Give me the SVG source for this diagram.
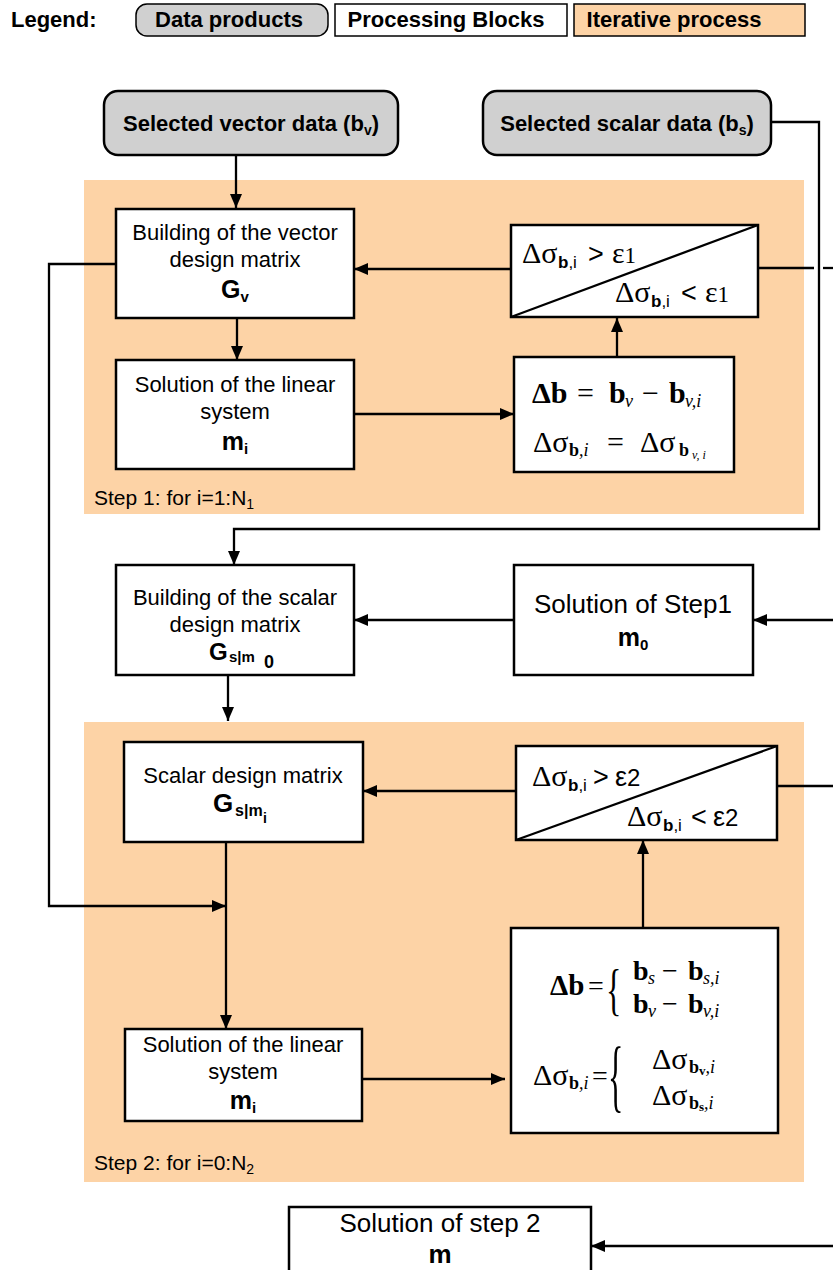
<svg xmlns="http://www.w3.org/2000/svg" width="833" height="1270" viewBox="0 0 833 1270">
<style>
.box{fill:#fff;stroke:#000;stroke-width:2.5}
.dp{fill:#d0d0d0;stroke:#000;stroke-width:2.5}
.it{fill:#fdd3a6}
.lg{stroke:#000;stroke-width:1.5}
.c{fill:none;stroke:#000;stroke-width:2.3}
.a{marker-end:url(#ah)}
.s{font-family:'Liberation Sans',Arial,sans-serif}
.t{font-family:'Liberation Sans',Arial,sans-serif;text-anchor:middle}
.b{font-weight:bold}
.r{font-family:'Liberation Serif','Times New Roman',serif}
.i{font-style:italic}
</style>
<defs>
<marker id="ah" viewBox="0 0 14 12" refX="14" refY="6" markerWidth="14" markerHeight="12" markerUnits="userSpaceOnUse" orient="auto">
<path d="M0,0 L14,6 L0,12 z" fill="#000"/>
</marker>
</defs>

<g id="legend">
<text x="11" y="27" class="s b" font-size="22">Legend:</text>
<rect x="136" y="4" width="192" height="32" rx="11" class="dp lg"/>
<text x="229" y="27" class="t b" font-size="22">Data products</text>
<rect x="335" y="4" width="232" height="32" class="box lg"/>
<text x="446" y="27" class="t b" font-size="22">Processing Blocks</text>
<rect x="574" y="4" width="231" height="32" class="it lg"/>
<text x="674" y="27" class="t b" font-size="22">Iterative process</text>
</g>

<g id="step1-region">
<rect x="84" y="180" width="720" height="334" class="it"/>
<text x="94" y="505" class="s" font-size="21">Step 1: for i=1:N<tspan font-size="14" dy="4">1</tspan></text>
</g>
<g id="step2-region">
<rect x="84" y="722" width="720" height="460" class="it"/>
<text x="94" y="1170" class="s" font-size="21">Step 2: for i=0:N<tspan font-size="14" dy="4">2</tspan></text>
</g>

<g id="connectors">
<path d="M236,155 V208" class="c a"/>
<path d="M771,122 H819 V529 H234 V565" class="c a"/>
<path d="M237,318 V360" class="c a"/>
<path d="M354,414 H514" class="c a"/>
<path d="M617,357 V318" class="c a"/>
<path d="M511,269 H354" class="c a"/>
<path d="M758,268 H814" class="c"/>
<path d="M823,268 H833" class="c"/>
<path d="M116,264 H49 V906 H226" class="c a"/>
<path d="M514,620 H354" class="c a"/>
<path d="M833,620 H753" class="c a"/>
<path d="M228,675 V721" class="c a"/>
<path d="M516,791 H363" class="c a"/>
<path d="M777,786 H833" class="c"/>
<path d="M226,842 V1029" class="c a"/>
<path d="M362,1079 H505" class="c a"/>
<path d="M643,928 V840" class="c a"/>
<path d="M833,1246 H591" class="c a"/>
</g>

<g id="vector-data">
<rect x="104" y="91" width="294" height="64" rx="14" class="dp"/>
<text x="251" y="131" class="t b" font-size="22">Selected vector data (b<tspan font-size="14" dy="4">v</tspan><tspan dy="-4">)</tspan></text>
</g>
<g id="scalar-data">
<rect x="483" y="91" width="288" height="64" rx="14" class="dp"/>
<text x="627" y="131" class="t b" font-size="22">Selected scalar data (b<tspan font-size="14" dy="4">s</tspan><tspan dy="-4">)</tspan></text>
</g>

<g id="build-vector">
<rect x="116" y="209" width="238" height="109" class="box"/>
<text x="235" y="240" class="t" font-size="22">Building of the vector</text>
<text x="235" y="267" class="t" font-size="22">design matrix</text>
<text x="235" y="298" class="t b" font-size="25">G<tspan font-size="15" dy="4">v</tspan></text>
</g>

<g id="solve1">
<rect x="116" y="360" width="238" height="109" class="box"/>
<text x="235" y="392" class="t" font-size="22">Solution of the linear</text>
<text x="235" y="419" class="t" font-size="22">system</text>
<text x="235" y="450" class="t b" font-size="25">m<tspan font-size="15" dy="4">i</tspan></text>
</g>

<g id="decision1">
<rect x="511" y="225" width="247" height="92" class="box"/>
<path d="M511,317 L758,225" class="c" stroke-width="1.8"/>
<text y="263"><tspan x="522" class="r" font-size="30">Δσ</tspan><tspan x="558" dy="5" class="s b" font-size="17">b</tspan><tspan class="s" font-size="17">,i</tspan><tspan x="588" dy="-5" class="s" font-size="27">&gt;</tspan><tspan x="612" class="r" font-size="30">ε</tspan><tspan class="r" font-size="23">1</tspan></text>
<text y="302"><tspan x="615" class="r" font-size="30">Δσ</tspan><tspan x="651" dy="5" class="s b" font-size="17">b</tspan><tspan class="s" font-size="17">,i</tspan><tspan x="681" dy="-5" class="s" font-size="27">&lt;</tspan><tspan x="705" class="r" font-size="30">ε</tspan><tspan class="r" font-size="23">1</tspan></text>
</g>

<g id="delta-b1">
<rect x="514" y="357" width="220" height="115" class="box"/>
<text y="403" class="r"><tspan x="532" class="b" font-size="30">Δb</tspan><tspan x="577" font-size="30">=</tspan><tspan x="609" class="b" font-size="30">b</tspan><tspan x="625" dy="4" class="i" font-size="18">v</tspan><tspan x="642" dy="-4" font-size="30">−</tspan><tspan x="669" class="b" font-size="30">b</tspan><tspan x="685" dy="4" class="i" font-size="18">v,i</tspan></text>
<text y="452" class="r"><tspan x="533" font-size="30">Δσ</tspan><tspan x="569" dy="4" class="b" font-size="18">b</tspan><tspan class="i" font-size="18">,i</tspan><tspan x="607" dy="-4" font-size="30">=</tspan><tspan x="640" font-size="30">Δσ</tspan><tspan x="679" dy="4" class="b" font-size="18">b</tspan><tspan x="692" dy="3" class="i" font-size="12">v, i</tspan></text>
</g>

<g id="build-scalar">
<rect x="116" y="565" width="238" height="110" class="box"/>
<text x="235" y="605" class="t" font-size="22">Building of the scalar</text>
<text x="235" y="632" class="t" font-size="22">design matrix</text>
<text y="660" class="s b"><tspan x="209" font-size="24">G</tspan><tspan x="229" dy="2" font-size="15">s|m</tspan><tspan x="264" dy="6" font-size="18">0</tspan></text>
</g>

<g id="solution-step1">
<rect x="514" y="565" width="239" height="110" class="box"/>
<text x="633" y="613" class="t" font-size="26">Solution of Step1</text>
<text x="633" y="646" class="t b" font-size="25">m<tspan font-size="15" dy="4">0</tspan></text>
</g>

<g id="scalar-design">
<rect x="124" y="742" width="239" height="100" class="box"/>
<text x="243" y="783" class="t" font-size="22">Scalar design matrix</text>
<text y="812" class="s b"><tspan x="213" font-size="26">G</tspan><tspan x="235" dy="4" font-size="16">s|m</tspan><tspan x="263" dy="7" font-size="14">i</tspan></text>
</g>

<g id="decision2">
<rect x="516" y="746" width="261" height="94" class="box"/>
<path d="M516,840 L777,746" class="c" stroke-width="1.8"/>
<text y="786"><tspan x="532" class="r" font-size="30">Δσ</tspan><tspan x="568" dy="5" class="s b" font-size="17">b</tspan><tspan class="s" font-size="17">,i</tspan><tspan x="593" dy="-5" class="s" font-size="27">&gt;</tspan><tspan x="615" class="s" font-size="27">ε</tspan><tspan class="s" font-size="24">2</tspan></text>
<text y="826"><tspan x="627" class="r" font-size="30">Δσ</tspan><tspan x="663" dy="5" class="s b" font-size="17">b</tspan><tspan class="s" font-size="17">,i</tspan><tspan x="691" dy="-5" class="s" font-size="27">&lt;</tspan><tspan x="713" class="s" font-size="27">ε</tspan><tspan class="s" font-size="24">2</tspan></text>
</g>

<g id="solve2">
<rect x="125" y="1029" width="237" height="92" class="box"/>
<text x="243" y="1052" class="t" font-size="22">Solution of the linear</text>
<text x="243" y="1079" class="t" font-size="22">system</text>
<text x="243" y="1109" class="t b" font-size="25">m<tspan font-size="15" dy="4">i</tspan></text>
</g>

<g id="delta-b2">
<rect x="511" y="928" width="267" height="205" class="box"/>
<text y="995" class="r"><tspan x="550" class="b" font-size="29">Δb</tspan><tspan x="588" font-size="28">=</tspan></text>
<text transform="translate(606,1009) scale(0.8,1.4)" class="r" font-size="40">{</text>
<text y="980" class="r"><tspan x="633" class="b" font-size="28">b</tspan><tspan x="648" dy="4" class="i" font-size="18">s</tspan><tspan x="662" dy="-4" font-size="28">−</tspan><tspan x="688" class="b" font-size="28">b</tspan><tspan x="703" dy="4" class="i" font-size="18">s,i</tspan></text>
<text y="1013" class="r"><tspan x="633" class="b" font-size="28">b</tspan><tspan x="648" dy="4" class="i" font-size="18">v</tspan><tspan x="662" dy="-4" font-size="28">−</tspan><tspan x="688" class="b" font-size="28">b</tspan><tspan x="703" dy="4" class="i" font-size="18">v,i</tspan></text>
<text y="1085" class="r"><tspan x="533" font-size="30">Δσ</tspan><tspan x="569" dy="4" class="b" font-size="18">b</tspan><tspan class="i" font-size="18">,i</tspan><tspan x="592" dy="-4" font-size="28">=</tspan></text>
<text transform="translate(608,1102) scale(0.8,2.0)" class="r" font-size="40">{</text>
<text y="1069" class="r"><tspan x="652" font-size="30">Δσ</tspan><tspan x="689" dy="4" class="b" font-size="18">b</tspan><tspan class="b" dy="2" font-size="13">v</tspan><tspan class="i" dy="-2" font-size="18">,i</tspan></text>
<text y="1105" class="r"><tspan x="652" font-size="30">Δσ</tspan><tspan x="689" dy="4" class="b" font-size="18">b</tspan><tspan class="b" dy="2" font-size="13">s</tspan><tspan class="i" dy="-2" font-size="18">,i</tspan></text>
</g>

<g id="solution-step2">
<rect x="289" y="1207" width="302" height="80" class="box"/>
<text x="440" y="1232" class="t" font-size="26">Solution of step 2</text>
<text x="440" y="1263" class="t b" font-size="26">m</text>
</g>
</svg>
